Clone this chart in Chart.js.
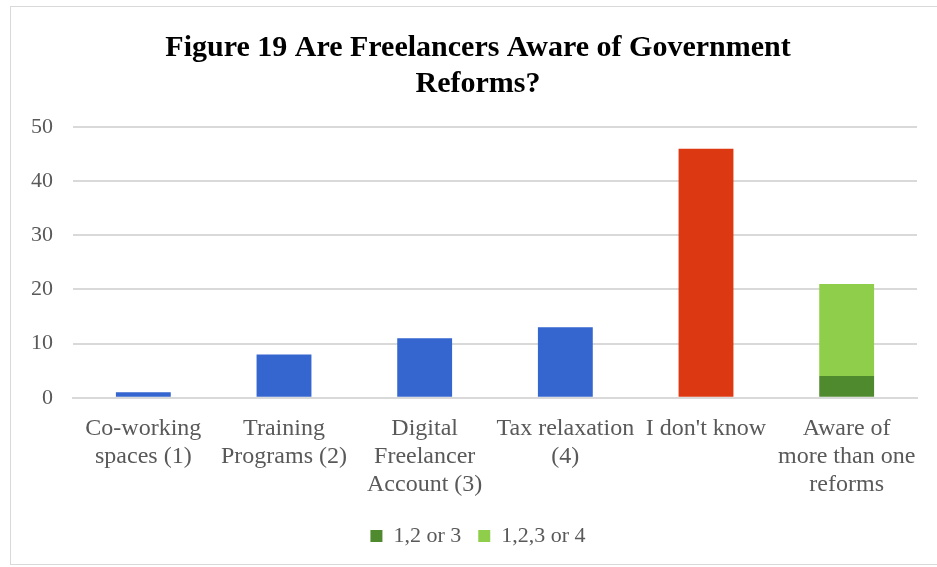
<!DOCTYPE html>
<html>
<head>
<meta charset="utf-8">
<script src="https://cdn.jsdelivr.net/npm/chart.js@4"></script>
<style>
  html,body{margin:0;padding:0;background:#fff;}
  body{width:937px;height:567px;overflow:hidden;position:relative;}
  #frame{position:absolute;left:10px;top:6px;width:940px;height:559px;border:1px solid #d9d9d9;box-sizing:border-box;}
  #wrap{position:absolute;left:0;top:0;width:937px;height:567px;}
</style>
</head>
<body>
<div id="frame"></div>
<div id="wrap"><canvas id="chart"></canvas></div>
<script>
// categories (multi-line axis labels)
const categorias = [
  ["Co-working", "spaces (1)"],
  ["Training", "Programs (2)"],
  ["Digital", "Freelancer", "Account (3)"],
  ["Tax relaxation", "(4)"],
  ["I don't know"],
  ["Aware of", "more than one", "reforms"]
];
// respondents per answer
const reformasUnicas = [1, 8, 11, 13, null, null];
const naoSabe        = [null, null, null, null, 46, null];
const ref123         = [null, null, null, null, null, 4];
const ref1234        = [null, null, null, null, null, 17];
const ticksY = [0, 10, 20, 30, 40, 50];

const serif = "'Liberation Serif', 'Times New Roman', serif";
const cinza = "#595959";

// y axis is narrowed (so title/legend centre on the frame); let its labels spill left without clipping
const eixoLivre = {
  id: "eixoLivre",
  afterLayout: (c)=>{ c.scales.y.left = 0; }
};

new Chart(document.getElementById("chart"), {
  type: "bar",
  plugins: [eixoLivre],
  data: {
    labels: categorias,
    datasets: [
      { label: "single", data: reformasUnicas, backgroundColor: "#3565cf" },
      { label: "idk", data: naoSabe, backgroundColor: "#dc3912" },
      { label: "1,2 or 3", data: ref123, backgroundColor: "#4f8a2f" },
      { label: "1,2,3 or 4", data: ref1234, backgroundColor: "#8fce4b" }
    ]
  },
  options: {
    responsive: true,
    maintainAspectRatio: false,
    animation: false,
    datasets: { bar: { categoryPercentage: 1, barPercentage: 0.39 } },
    layout: { padding: { left: 39, right: 20, top: 19, bottom: 10 } },
    plugins: {
      title: {
        display: true,
        text: ["Figure 19 Are Freelancers Aware of Government", "Reforms?"],
        font: { family: serif, size: 30, weight: "bold", lineHeight: 1.2 },
        color: "#000",
        padding: { top: 11, bottom: 25 }
      },
      legend: {
        position: "bottom",
        labels: {
          filter: (it)=> it.text.startsWith("1,"),
          boxWidth: 12, boxHeight: 12,
          font: { family: serif, size: 22 },
          color: cinza,
          padding: 17
        }
      },
      tooltip: { enabled: false }
    },
    scales: {
      x: {
        stacked: true,
        grid: { display: false },
        border: { color: "#d9d9d9", width: 2 },
        ticks: { font: { family: serif, size: 24, lineHeight: 1.17 }, color: cinza, maxRotation: 0, autoSkip: false, padding: 9 }
      },
      y: {
        stacked: true,
        min: 0, max: 50,
        afterBuildTicks: (ax)=>{ ax.ticks = ticksY.map(v=>({value:v})); },
        afterFit: (ax)=>{ ax.width = 34; },
        grid: { color: "#d9d9d9", lineWidth: 2, drawTicks: false },
        border: { display: false },
        ticks: { font: { family: serif, size: 22 }, color: cinza, padding: 20 }
      }
    }
  }
});
</script>
</body>
</html>
